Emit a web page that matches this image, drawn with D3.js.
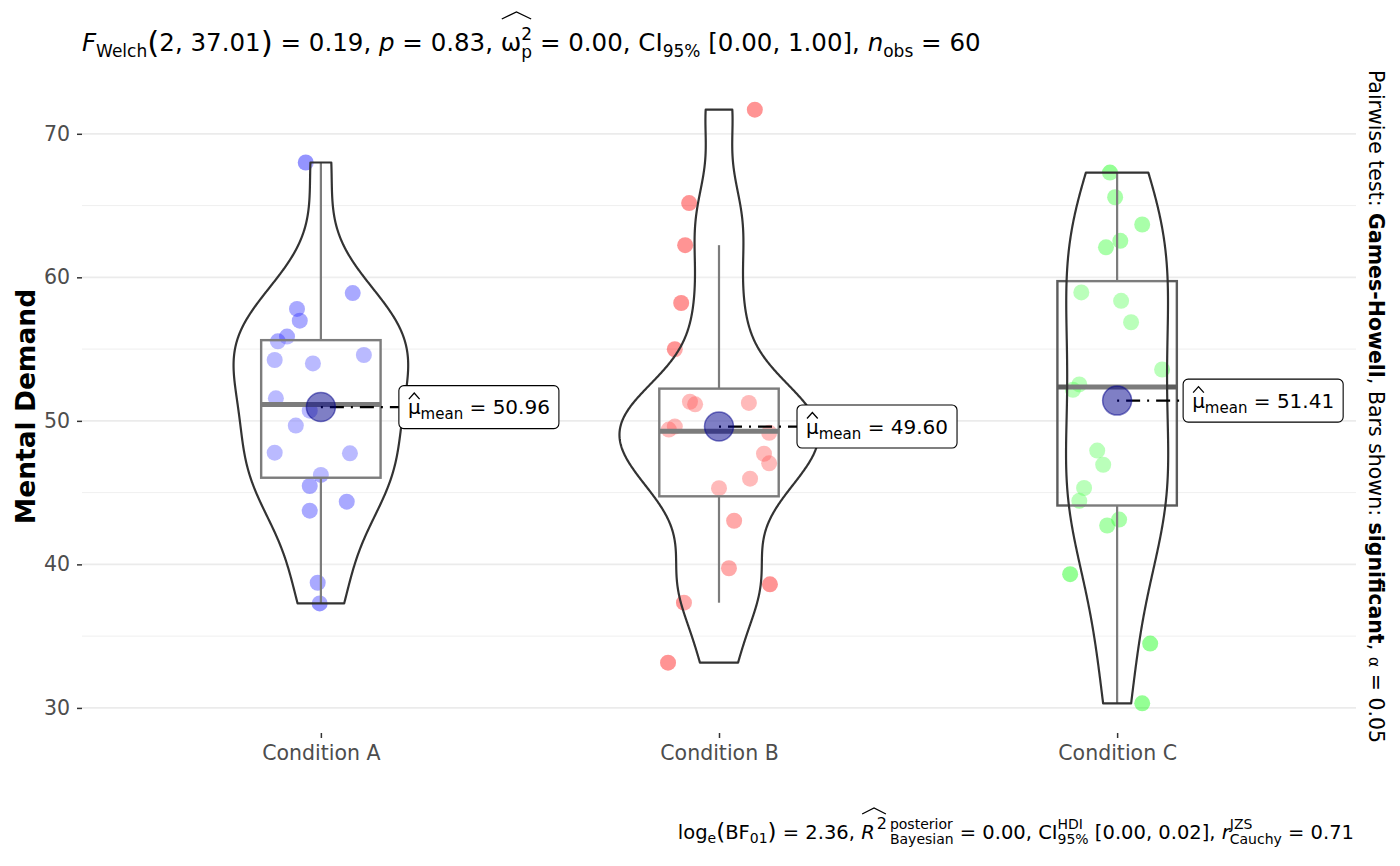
<!DOCTYPE html>
<html>

<head>
  <meta charset="utf-8">
  <title>Mental Demand by Condition</title>
  <script src="https://cdn.jsdelivr.net/npm/d3@7"></script>
  <style>
    body { margin: 0; background: #fff; }
    text { font-family: "DejaVu Sans", sans-serif; white-space: pre; }
  </style>
</head>

<body>
  <script type="text/javascript">
    //Data
    var categories = ["Condition A", "Condition B", "Condition C"];
    var valuesA = [68.0, 58.9, 57.8, 56.98, 55.87, 55.54, 54.24, 54.0, 54.59, 51.57,
      50.71, 49.67, 47.78, 47.74, 46.23, 45.46, 44.37, 43.74, 38.72, 37.28];
    var valuesB = [71.68, 65.17, 62.24, 58.21, 54.99, 51.33, 51.15, 51.25, 49.6, 49.39,
      49.17, 47.71, 47.04, 45.97, 45.31, 43.04, 39.73, 38.61, 37.33, 33.15];
    var valuesC = [67.3, 65.58, 63.68, 62.54, 62.09, 58.95, 58.36, 56.87, 53.58, 52.54,
      52.16, 47.93, 46.94, 45.32, 44.43, 43.12, 42.71, 39.32, 34.48, 30.32];
    // horizontal jitter of each point, in category-step units
    var jitterA = [-0.038, 0.080, -0.060, -0.053, -0.085, -0.108, -0.116, -0.020, 0.108, -0.113,
      -0.028, -0.063, -0.116, 0.073, 0.000, -0.028, 0.065, -0.028, -0.008, -0.003];
    var jitterB = [0.090, -0.075, -0.085, -0.095, -0.111, -0.073, -0.060, 0.075, -0.111, -0.126,
      0.126, 0.113, 0.126, 0.078, 0.000, 0.038, 0.025, 0.128, -0.088, -0.128];
    var jitterC = [-0.018, -0.005, 0.063, 0.008, -0.028, -0.090, 0.010, 0.035, 0.113, -0.095,
      -0.111, -0.050, -0.035, -0.083, -0.095, 0.005, -0.025, -0.118, 0.083, 0.063];
    var pointColors = ["#0000FF", "#FF0000", "#00FF00"];
    var yTicks = [30, 40, 50, 60, 70];
    var yLabel = "Mental Demand";

    var groups = [
      { name: categories[0], values: valuesA, jitter: jitterA, color: pointColors[0] },
      { name: categories[1], values: valuesB, jitter: jitterB, color: pointColors[1] },
      { name: categories[2], values: valuesC, jitter: jitterC, color: pointColors[2] }
    ];

    //Width and height
    var w = 1400;
    var h = 866;
    var panel = { left: 82, right: 1356, top: 80, bottom: 733 };
    var font = "DejaVu Sans";

    var allValues = valuesA.concat(valuesB, valuesC);
    var ext = d3.extent(allValues);
    var pad = (ext[1] - ext[0]) * 0.05;

    var y = d3.scaleLinear()
      .domain([ext[0] - pad, ext[1] + pad])
      .range([panel.bottom, panel.top]);

    var x = d3.scalePoint()
      .domain(categories)
      .range([panel.left, panel.right])
      .padding(0.6);
    var step = x.step();

    var svg = d3.select("body")
      .append("svg")
      .attr("width", w)
      .attr("height", h);

    // draws a line of plotmath-like text made of pieces; returns total width
    function rich(sel, x0, y0, parts, opts) {
      var g = sel.append("g");
      var cx = 0;
      var hats = {};
      parts.forEach(function(p) {
        var size = p.size || opts.size;
        var pieces = p.stack || [p];
        var wid = 0;
        pieces.forEach(function(s) {
          var t = g.append("text")
            .attr("x", cx)
            .attr("y", s.dy || 0)
            .attr("font-size", s.size || size)
            .attr("font-style", p.italic ? "italic" : null)
            .attr("font-weight", p.bold ? "bold" : null)
            .attr("fill", opts.color || "#000")
            .text(s.t);
          wid = Math.max(wid, t.node().getComputedTextLength());
        });
        if (p.hat) {
          var hh = hats[p.hat] || { x0: cx, x1: cx };
          hh.x1 = cx + wid;
          hats[p.hat] = hh;
        }
        cx += wid + (p.gap || 0);
      });
      Object.keys(hats).forEach(function(k) {
        var hh = hats[k];
        g.append("path")
          .attr("d", "M" + (hh.x0 + 1) + "," + opts.hatBase + "L" + ((hh.x0 + hh.x1) / 2) + "," + (opts.hatBase - opts.hatH) + "L" + (hh.x1 - 1) + "," + opts.hatBase)
          .attr("fill", "none")
          .attr("stroke", "#000")
          .attr("stroke-width", 1.3);
      });
      var shift = opts.anchor === "end" ? -cx : opts.anchor === "middle" ? -cx / 2 : 0;
      g.attr("transform", "translate(" + (x0 + shift) + "," + y0 + ")");
      return { g: g, width: cx };
    }

    // grid lines
    var minorTicks = d3.pairs(yTicks).map(function(p) { return (p[0] + p[1]) / 2; });
    svg.append("g").selectAll("line.minor")
      .data(minorTicks).enter().append("line")
      .attr("x1", panel.left).attr("x2", panel.right)
      .attr("y1", d => y(d)).attr("y2", d => y(d))
      .attr("stroke", "#ededed").attr("stroke-width", 0.9);
    svg.append("g").selectAll("line.major")
      .data(yTicks).enter().append("line")
      .attr("x1", panel.left).attr("x2", panel.right)
      .attr("y1", d => y(d)).attr("y2", d => y(d))
      .attr("stroke", "#ebebeb").attr("stroke-width", 1.8);

    // axes
    var yAxis = svg.append("g")
      .attr("transform", "translate(" + panel.left + ",0)")
      .call(d3.axisLeft(y).tickValues(yTicks).tickSize(5).tickPadding(7));
    var xAxis = svg.append("g")
      .attr("transform", "translate(0," + panel.bottom + ")")
      .call(d3.axisBottom(x).tickSize(5).tickPadding(7));
    [yAxis, xAxis].forEach(function(a) {
      a.select(".domain").remove();
      a.selectAll(".tick line").attr("stroke", "#333").attr("stroke-width", 1.5);
      a.selectAll(".tick text").attr("fill", "#4d4d4d").attr("font-size", 20.5).attr("font-family", font);
    });

    svg.append("text")
      .attr("transform", "translate(35," + ((panel.top + panel.bottom) / 2) + ") rotate(-90)")
      .attr("text-anchor", "middle")
      .attr("font-size", 26.5)
      .attr("font-weight", "bold")
      .text(yLabel);

    // kernel density, bw.nrd0, trimmed to data range
    function density(vals) {
      var s = vals.slice().sort(d3.ascending);
      var iqr = d3.quantile(s, 0.75) - d3.quantile(s, 0.25);
      var lo = Math.min(d3.deviation(s), iqr / 1.34);
      var bw = 0.9 * lo * Math.pow(s.length, -0.2);
      var mn = s[0], mx = s[s.length - 1];
      return d3.range(512).map(function(i) {
        var v = mn + (mx - mn) * i / 511;
        var d = d3.sum(s, function(xi) { return Math.exp(-0.5 * Math.pow((v - xi) / bw, 2)); });
        return [v, d / (s.length * bw * Math.sqrt(2 * Math.PI))];
      });
    }
    groups.forEach(function(g) { g.dens = density(g.values); });
    var maxDens = d3.max(groups, g => d3.max(g.dens, d => d[1]));
    var violinHalf = step * 0.5 / 2;
    var boxHalf = step * 0.3 / 2;

    var line = d3.line();

    groups.forEach(function(gr, gi) {
      var cx = x(gr.name);
      var gg = svg.append("g");

      // points
      gg.selectAll("circle.pt")
        .data(gr.values).enter().append("circle")
        .attr("cx", (d, i) => cx + gr.jitter[i] * step)
        .attr("cy", d => y(d))
        .attr("r", 8)
        .attr("fill", gr.color)
        .attr("fill-opacity", 0.42);

      // boxplot
      var s = gr.values.slice().sort(d3.ascending);
      var q1 = d3.quantile(s, 0.25), med = d3.quantile(s, 0.5), q3 = d3.quantile(s, 0.75);
      var iqr = q3 - q1;
      var wLo = d3.min(s.filter(v => v >= q1 - 1.5 * iqr));
      var wHi = d3.max(s.filter(v => v <= q3 + 1.5 * iqr));
      var boxStroke = "#5c5c5c";
      gg.append("line").attr("x1", cx).attr("x2", cx).attr("y1", y(q3)).attr("y2", y(wHi))
        .attr("stroke", boxStroke).attr("stroke-width", 2.2);
      gg.append("line").attr("x1", cx).attr("x2", cx).attr("y1", y(q1)).attr("y2", y(wLo))
        .attr("stroke", boxStroke).attr("stroke-width", 2.2);
      gg.append("rect")
        .attr("x", cx - boxHalf).attr("width", boxHalf * 2)
        .attr("y", y(q3)).attr("height", y(q1) - y(q3))
        .attr("fill", "#fff").attr("fill-opacity", 0.2)
        .attr("stroke", boxStroke).attr("stroke-width", 2.4);
      gg.append("line").attr("x1", cx - boxHalf).attr("x2", cx + boxHalf)
        .attr("y1", y(med)).attr("y2", y(med))
        .attr("stroke", boxStroke).attr("stroke-width", 5);

      // violin
      var left = gr.dens.map(d => [cx - d[1] / maxDens * violinHalf, y(d[0])]);
      var right = gr.dens.slice().reverse().map(d => [cx + d[1] / maxDens * violinHalf, y(d[0])]);
      gg.append("path")
        .attr("d", line(left.concat(right)) + "Z")
        .attr("fill", "#fff").attr("fill-opacity", 0.2)
        .attr("stroke", "#333").attr("stroke-width", 2.2)
        .attr("stroke-linejoin", "round");
    });

    // means and labels
    var labelDx = [78, 78, 66];
    groups.forEach(function(gr, gi) {
      var cx = x(gr.name);
      var m = d3.mean(gr.values);
      var my = y(m);
      var lx = cx + labelDx[gi];
      var lg = svg.append("g");
      lg.append("line")
        .attr("x1", cx).attr("x2", lx).attr("y1", my).attr("y2", my)
        .attr("stroke", "#000").attr("stroke-width", 2.2)
        .attr("stroke-dasharray", "2,7,14,7");
      lg.append("circle")
        .attr("cx", cx).attr("cy", my).attr("r", 14.5)
        .attr("fill", "#00008B").attr("fill-opacity", 0.5)
        .attr("stroke", "#00008B").attr("stroke-opacity", 0.5).attr("stroke-width", 1.5);
      var rect = lg.append("rect");
      var t = rich(lg, lx + 9, my + 7, [
        { t: "\u03bc", hat: "h" },
        { t: "mean", size: 15, dy: 5 },
        { t: " = " },
        { t: m.toFixed(2) }
      ], { size: 20, hatBase: -15, hatH: 6 });
      rect.attr("x", lx).attr("y", my - 21.5)
        .attr("width", t.width + 18).attr("height", 43)
        .attr("rx", 5).attr("fill", "#fff")
        .attr("stroke", "#000").attr("stroke-width", 1.1);
    });

    // subtitle
    rich(svg, panel.left, 51, [
      { t: "F", italic: true },
      { t: "Welch", size: 17, dy: 6 },
      { t: "(", size: 31, dy: 2 },
      { t: "2, 37.01" },
      { t: ")", size: 31, dy: 2 },
      { t: " = 0.19, " },
      { t: "p", italic: true },
      { t: " = 0.83, " },
      { t: "\u03c9", hat: "o" },
      { stack: [{ t: "2", dy: -11 }, { t: "p", dy: 7 }], size: 17, hat: "o" },
      { t: " = 0.00, CI" },
      { t: "95%", size: 17, dy: 6 },
      { t: " [0.00, 1.00], " },
      { t: "n", italic: true },
      { t: "obs", size: 17, dy: 6 },
      { t: " = 60" }
    ], { size: 24.5, hatBase: -32, hatH: 7 });

    // caption
    rich(svg, 1354, 839, [
      { t: "log" },
      { t: "e", size: 14, dy: 4 },
      { t: "(", size: 23, dy: 1 },
      { t: "BF" },
      { t: "01", size: 14, dy: 4 },
      { t: ")", size: 23, dy: 1 },
      { t: " = 2.36, " },
      { t: "R", italic: true, hat: "r", gap: 2 },
      { t: "2", size: 16, dy: -10, hat: "r", gap: 3 },
      { stack: [{ t: "posterior", dy: -10 }, { t: "Bayesian", dy: 5 }], size: 14 },
      { t: " = 0.00, CI" },
      { stack: [{ t: "HDI", dy: -10 }, { t: "95%", dy: 5 }], size: 14 },
      { t: " [0.00, 0.02], " },
      { t: "r", italic: true },
      { stack: [{ t: "JZS", dy: -10 }, { t: "Cauchy", dy: 5 }], size: 14 },
      { t: " = 0.71" }
    ], { size: 19.5, anchor: "end", hatBase: -25, hatH: 6 });

    // right-side label
    var side = svg.append("g")
      .attr("transform", "translate(1369," + ((panel.top + panel.bottom) / 2) + ") rotate(90)");
    rich(side, 0, 0, [
      { t: "Pairwise test: " },
      { t: "Games-Howell", bold: true },
      { t: ", Bars shown: " },
      { t: "significant", bold: true },
      { t: ", " },
      { t: "\u03b1", size: 16 },
      { t: " = 0.05" }
    ], { size: 20.5, anchor: "middle" });
  </script>

</body>

</html>
